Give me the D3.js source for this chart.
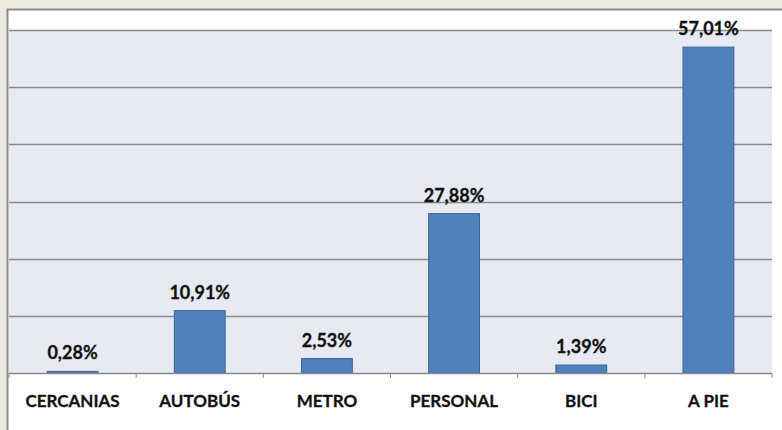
<!DOCTYPE html>
<html lang="es">
<head>
    <meta charset="UTF-8">
    <title>Reparto modal</title>
    <script src="https://cdn.jsdelivr.net/npm/d3@7"></script>
    <style>
        body { margin: 0; background: #ece9df; }
        .value { font: bold 18px Lato, sans-serif; fill: #111; text-anchor: middle; stroke: #111; stroke-width: 0.3px; }
        .cat { font: bold 17px Lato, sans-serif; fill: #111; text-anchor: middle; stroke: #111; stroke-width: 0.3px; }
    </style>
</head>
<body>
<script>
    // data
    const categories = ["CERCANIAS", "AUTOBÚS", "METRO", "PERSONAL", "BICI", "A PIE"];
    const values = [0.28, 10.91, 2.53, 27.88, 1.39, 57.01];
    const yTicks = [0, 10, 20, 30, 40, 50, 60];

    const W = 782, H = 430;
    const plot = {left: 9, right: 772, top: 30, bottom: 373};

    const svg = d3.select("body").append("svg")
        .attr("width", W)
        .attr("height", H)
        .style("display", "block");

    // beige frame + white panel
    svg.append("rect").attr("width", W).attr("height", H).attr("fill", "#ece9df");
    svg.append("rect")
        .attr("x", 7.5).attr("y", 9.5)
        .attr("width", W).attr("height", H)
        .attr("fill", "#fff")
        .attr("stroke", "#8c8c8c")
        .attr("stroke-width", 2);

    const x = d3.scaleBand()
        .domain(categories)
        .range([plot.left, plot.right])
        .paddingInner(0)
        .paddingOuter(0);

    const y = d3.scaleLinear()
        .domain([0, 60])
        .range([plot.bottom, plot.top]);

    // plot area background
    svg.append("rect")
        .attr("x", plot.left).attr("y", plot.top)
        .attr("width", plot.right - plot.left)
        .attr("height", plot.bottom - plot.top)
        .attr("fill", "#e7eaf3");

    // gridlines
    svg.append("g")
        .selectAll("line")
        .data(yTicks.slice(1))
        .join("line")
        .attr("x1", plot.left).attr("x2", plot.right)
        .attr("y1", d => Math.round(y(d)) + 0.5)
        .attr("y2", d => Math.round(y(d)) + 0.5)
        .attr("stroke", "#8a8a8a")
        .attr("stroke-width", 1.5);

    // bars
    const bw = x.bandwidth() / 2.5;
    svg.append("g")
        .selectAll("rect")
        .data(values)
        .join("rect")
        .attr("x", (d, i) => x(categories[i]) + (x.bandwidth() - bw) / 2)
        .attr("y", d => y(d))
        .attr("width", bw)
        .attr("height", d => y(0) - y(d))
        .attr("fill", "#4f81bd")
        .attr("stroke", "#3b6696")
        .attr("stroke-width", 1);

    // value labels
    svg.append("g")
        .selectAll("text")
        .data(values)
        .join("text")
        .attr("class", "value")
        .attr("x", (d, i) => x(categories[i]) + x.bandwidth() / 2)
        .attr("y", d => y(d) - 12)
        .text(d => d.toFixed(2).replace(".", ",") + "%");

    // x axis with tick marks at category boundaries
    const axis = svg.append("g");
    axis.append("line")
        .attr("x1", plot.left).attr("x2", plot.right)
        .attr("y1", plot.bottom + 0.5).attr("y2", plot.bottom + 0.5)
        .attr("stroke", "#8a8a8a")
        .attr("stroke-width", 1.5);
    axis.selectAll(".tick")
        .data(categories.map(c => x(c)).concat([plot.right]))
        .join("line")
        .attr("x1", d => d).attr("x2", d => d)
        .attr("y1", plot.bottom).attr("y2", plot.bottom + 5)
        .attr("stroke", "#8a8a8a")
        .attr("stroke-width", 1);

    axis.selectAll("text")
        .data(categories)
        .join("text")
        .attr("class", "cat")
        .attr("x", d => x(d) + x.bandwidth() / 2)
        .attr("y", 407)
        .text(d => d);
</script>
</body>
</html>
